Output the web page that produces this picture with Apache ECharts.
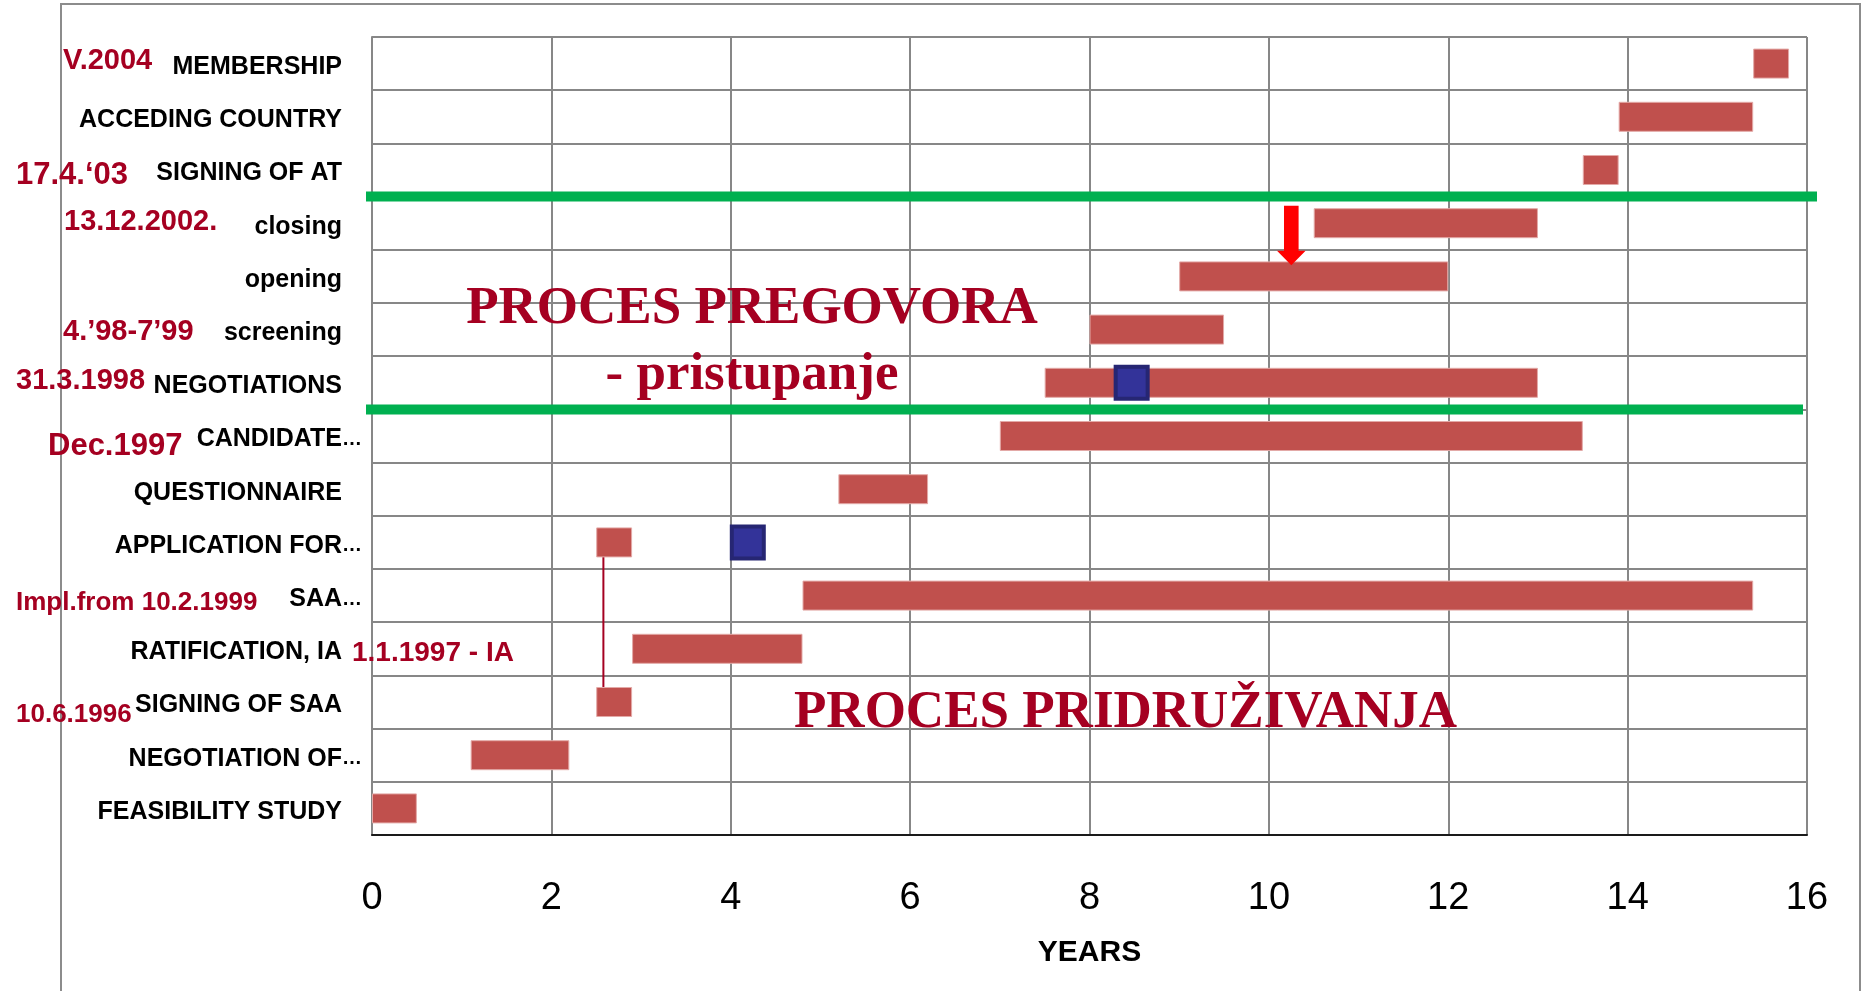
<!DOCTYPE html>
<html>
<head>
<meta charset="utf-8">
<script src="https://cdn.jsdelivr.net/npm/echarts@6/dist/echarts.min.js"></script>
<style>
html, body { margin: 0; padding: 0; background: #fff; }
#chart { width: 1872px; height: 991px; }
</style>
</head>
<body>
<div id="chart"></div>
<script>
// phases, top to bottom
var phases = ['MEMBERSHIP', 'ACCEDING COUNTRY', 'SIGNING OF AT', 'closing', 'opening', 'screening',
  'NEGOTIATIONS', 'CANDIDATE…', 'QUESTIONNAIRE', 'APPLICATION FOR…', 'SAA…', 'RATIFICATION, IA',
  'SIGNING OF SAA', 'NEGOTIATION OF…', 'FEASIBILITY STUDY'];
// year the phase starts (hidden part of the stack)
var startYears = [15.4, 13.9, 13.5, 10.5, 9.0, 8.0, 7.5, 7.0, 5.2, 2.5, 4.8, 2.9, 2.5, 1.1, 0];
// how long it lasts (red bar)
var durationYears = [0.4, 1.5, 0.4, 2.5, 3.0, 1.5, 5.5, 6.5, 1.0, 0.4, 10.6, 1.9, 0.4, 1.1, 0.5];

// blue square markers
var markerYears = [4.19, 8.47];
var markerPhases = ['APPLICATION FOR…', 'NEGOTIATIONS'];

// red arrow (closing -> opening) and the thin link (application -> signing of SAA)
var arrowYear = 10.25;
var arrowPhases = ['closing', 'opening'];
var linkYear = 2.58;
var linkPhases = ['APPLICATION FOR…', 'SIGNING OF SAA'];

// green separators sit between these rows
var dividerPhases = [['SIGNING OF AT', 'closing'], ['NEGOTIATIONS', 'CANDIDATE…']];

var xMin = 0, xMax = 16, xStep = 2;

var dateNotes = ['V.2004', '17.4.‘03', '13.12.2002.', '4.’98-7’99', '31.3.1998', 'Dec.1997',
  'Impl.from 10.2.1999', '1.1.1997 - IA', '10.6.1996'];

function idx(name) { return phases.indexOf(name); }

var chart = echarts.init(document.getElementById('chart'));

var RED_TXT = '#a50021';
var LABEL_FONT = '"Liberation Sans", Arial, sans-serif';
// where each date note goes (left, middle, font size)
var notePos = [
  [63, 61, 29], [16, 175, 31], [64, 222, 29], [63, 332, 29], [16, 381, 29],
  [48, 446, 31], [16, 603, 26], [352, 653, 28], [16, 715, 26]
];

var graphics = [{
  type: 'rect', silent: true, z: -10,
  shape: { x: 61, y: 4, width: 1799, height: 1100 },
  style: { fill: 'none', stroke: '#8c8c8c', lineWidth: 2 }
}];
dateNotes.forEach(function (t, i) {
  graphics.push({
    type: 'text', silent: true, z: 100,
    x: notePos[i][0], y: notePos[i][1],
    style: {
      text: t, fill: RED_TXT,
      font: 'bold ' + notePos[i][2] + 'px ' + LABEL_FONT,
      align: 'left', verticalAlign: 'middle', textAlign: 'left', textVerticalAlign: 'middle'
    }
  });
});
// big serif captions
[['PROCES PREGOVORA', 752, 309, 'center'], ['- pristupanje', 752, 375, 'center'],
 ['PROCES PRIDRUŽIVANJA', 794, 713, 'left']].forEach(function (c) {
  graphics.push({
    type: 'text', silent: true, z: 100,
    x: c[1], y: c[2],
    style: {
      text: c[0], fill: RED_TXT,
      font: 'bold 53px "Liberation Serif", "Times New Roman", serif',
      align: c[3], verticalAlign: 'middle', textAlign: c[3], textVerticalAlign: 'middle'
    }
  });
});

chart.setOption({
  animation: false,
  backgroundColor: '#fff',
  textStyle: { fontFamily: LABEL_FONT },
  grid: { left: 372, right: 65, top: 37, bottom: 156 },
  xAxis: {
    type: 'value', min: xMin, max: xMax, interval: xStep,
    name: 'YEARS', nameLocation: 'middle', nameGap: 103,
    nameTextStyle: { fontSize: 30, fontWeight: 'bold', color: '#000' },
    axisLine: { show: true, lineStyle: { color: '#1a1a1a', width: 2 } },
    axisTick: { show: false },
    axisLabel: { fontSize: 38, color: '#000', margin: 45 },
    splitLine: { show: true, lineStyle: { color: '#878787', width: 2 } }
  },
  yAxis: {
    type: 'category', inverse: true, data: phases,
    axisLine: { show: true, lineStyle: { color: '#878787', width: 2 } },
    axisTick: { show: false },
    axisLabel: {
      margin: 10, padding: [7, 0, 0, 0],
      formatter: function (v) {
        if (v.slice(-1) === '…') return '{t|' + v.slice(0, -1) + '}{e|…}';
        return '{t|' + v + '}{p| }';
      },
      rich: {
        t: { fontSize: 25, fontWeight: 'bold', color: '#000', fontFamily: LABEL_FONT },
        e: { fontSize: 20, fontWeight: 'bold', color: '#000', fontFamily: LABEL_FONT, width: 20 },
        p: { fontSize: 20, width: 20 }
      }
    },
    splitLine: { show: true, lineStyle: { color: '#878787', width: 2 } }
  },
  graphic: graphics,
  series: [
    {
      name: 'start', type: 'bar', stack: 'gantt', barWidth: 30,
      itemStyle: { color: 'transparent' }, silent: true,
      data: startYears
    },
    {
      name: 'duration', type: 'bar', stack: 'gantt', barWidth: 30,
      itemStyle: { color: '#c0504d', borderColor: '#e3a9a7', borderWidth: 1 },
      data: durationYears
    },
    {
      // thin dark red link between the two SAA squares
      name: 'link', type: 'custom', z: 1,
      data: [[linkYear, idx(linkPhases[0]), idx(linkPhases[1])]],
      renderItem: function (params, api) {
        var a = api.coord([api.value(0), api.value(1)]);
        var b = api.coord([api.value(0), api.value(2)]);
        return { type: 'line', shape: { x1: a[0], y1: a[1], x2: b[0], y2: b[1] },
          style: { stroke: RED_TXT, lineWidth: 2 } };
      }
    },
    {
      name: 'arrow', type: 'custom', z: 10,
      data: [[arrowYear, idx(arrowPhases[0]), idx(arrowPhases[1])]],
      renderItem: function (params, api) {
        var band = api.size([0, 1])[1];
        var a = api.coord([api.value(0), api.value(1)]);
        var b = api.coord([api.value(0), api.value(2)]);
        var x = a[0], top = a[1] - band * 0.33, tip = b[1] - band * 0.21, neck = tip - 14.5;
        return {
          type: 'polygon',
          shape: { points: [[x - 7.3, top], [x + 7.3, top], [x + 7.3, neck], [x + 14.3, neck],
            [x, tip], [x - 14.3, neck], [x - 7.3, neck]] },
          style: { fill: '#ff0000' }
        };
      }
    },
    {
      name: 'dividers', type: 'custom', z: 10,
      data: dividerPhases.map(function (d) { return [idx(d[0]), idx(d[1])]; }),
      renderItem: function (params, api) {
        var a = api.coord([xMin, api.value(0)]);
        var b = api.coord([xMax, api.value(1)]);
        var y = (a[1] + b[1]) / 2;
        var ext = params.dataIndex === 0 ? 10 : -4;
        return { type: 'line', shape: { x1: a[0] - 6, y1: y, x2: b[0] + ext, y2: y },
          style: { stroke: '#00b050', lineWidth: 10 } };
      }
    },
    {
      name: 'milestones', type: 'scatter', z: 5,
      symbol: 'rect', symbolSize: 32,
      itemStyle: { color: '#333399', borderColor: '#262673', borderWidth: 4, opacity: 1 },
      data: markerYears.map(function (v, i) { return [v, idx(markerPhases[i])]; })
    }
  ]
});
</script>
</body>
</html>
